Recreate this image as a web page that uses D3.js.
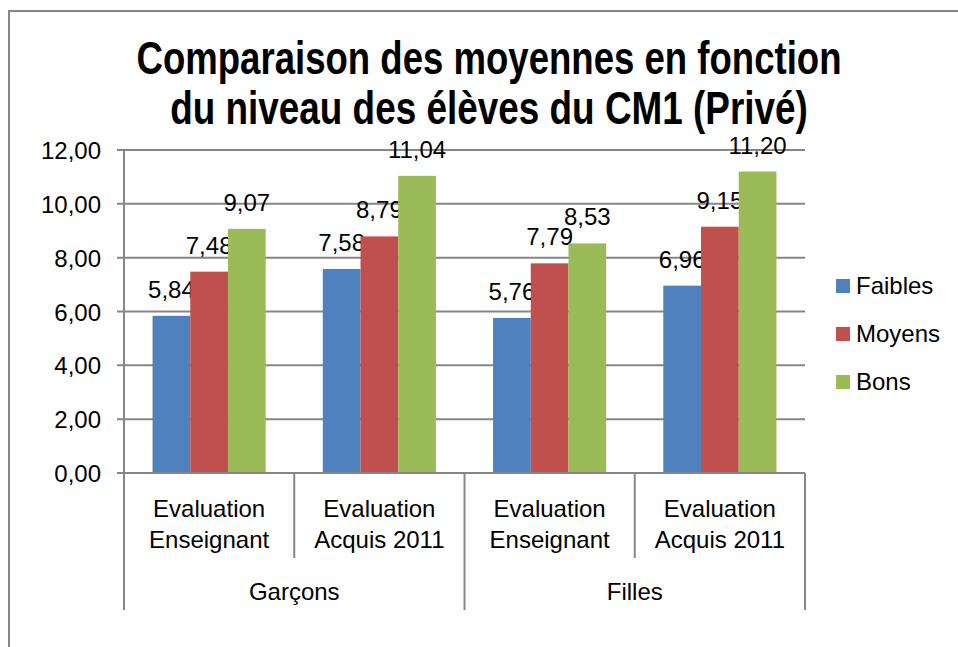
<!DOCTYPE html>
<html><head><meta charset="utf-8">
<script src="https://cdn.jsdelivr.net/npm/d3@7"></script>
<style>body{margin:0;background:#fff}svg{display:block}text{font-family:"Liberation Sans",Arial,sans-serif;fill:#000}</style>
</head><body>
<svg id="c" width="958" height="647"></svg>
<script>
const titleLines = ["Comparaison des moyennes en fonction", "du niveau des élèves du CM1 (Privé)"];
const groups = ["Garçons", "Filles"];
const subcats = [["Evaluation", "Enseignant"], ["Evaluation", "Acquis 2011"]];
const categories = ["Garçons|EE", "Garçons|A2011", "Filles|EE", "Filles|A2011"];
const series = ["Faibles", "Moyens", "Bons"];
const faibles = [5.84, 7.58, 5.76, 6.96];
const moyens = [7.48, 8.79, 7.79, 9.15];
const bons = [9.07, 11.04, 8.53, 11.20];
const yTicks = [0, 2, 4, 6, 8, 10, 12];
const colors = ["#4F81BD", "#C0504D", "#9BBB59"];

const values = [faibles, moyens, bons];
const fmt = v => v.toFixed(2).replace(".", ",");
const svg = d3.select("#c");
const grid = "#868686";

// frame
svg.append("rect").attr("x", 9).attr("y", 11).attr("width", 1000).attr("height", 700)
  .attr("fill", "none").attr("stroke", grid).attr("stroke-width", 2);

// title (condensed horizontally to match the reference's narrow face)
const titleW = [705, 638];
svg.selectAll(".title").data(titleLines).join("text").attr("class", "title")
  .attr("text-anchor", "middle").attr("font-size", 46).attr("font-weight", "bold")
  .text(d => d)
  .attr("transform", function (d, i) {
    const w = this.getComputedTextLength();
    return `translate(489,${74 + i * 50}) scale(${titleW[i] / w},1)`;
  });

const L = 124, R = 805, T = 150, B = 473;
const y = d3.scaleLinear().domain([0, 12]).range([B, T]);
const x0 = d3.scaleBand().domain(categories).range([L, R]).padding(0);
const x1 = d3.scaleBand().domain(series).range([0, x0.bandwidth()]).paddingInner(0).paddingOuter(0.757);

// gridlines
svg.append("g").selectAll("line").data(yTicks.filter(t => t > 0)).join("line")
  .attr("x1", L - 7).attr("x2", R).attr("y1", d => y(d)).attr("y2", d => y(d))
  .attr("stroke", grid).attr("stroke-width", 2);

// y axis labels
svg.append("g").selectAll("text").data(yTicks).join("text")
  .attr("x", 101).attr("y", d => y(d) + 9).attr("text-anchor", "end")
  .attr("font-size", 24).text(fmt);

// bars
series.forEach((s, si) => {
  svg.append("g").selectAll("rect").data(categories).join("rect")
    .attr("x", c => x0(c) + x1(s)).attr("width", x1.bandwidth())
    .attr("y", (c, ci) => y(values[si][ci])).attr("height", (c, ci) => B - y(values[si][ci]))
    .attr("fill", colors[si]);
  svg.append("g").selectAll("text").data(categories).join("text")
    .attr("x", c => x0(c) + x1(s) + x1.bandwidth() / 2)
    .attr("y", (c, ci) => y(values[si][ci]) - 18)
    .attr("text-anchor", "middle").attr("font-size", 24)
    .text((c, ci) => fmt(values[si][ci]));
});

// axes lines
svg.append("line").attr("x1", L).attr("x2", L).attr("y1", T).attr("y2", 610).attr("stroke", grid).attr("stroke-width", 2);
svg.append("line").attr("x1", L - 7).attr("x2", R).attr("y1", B).attr("y2", B).attr("stroke", grid).attr("stroke-width", 2);

// category separators and labels
categories.forEach((c, i) => {
  const xr = x0(c) + x0.bandwidth();
  const outer = i % 2 === 1;
  svg.append("line").attr("x1", xr).attr("x2", xr).attr("y1", B).attr("y2", outer ? 610 : 558)
    .attr("stroke", grid).attr("stroke-width", 2);
  subcats[i % 2].forEach((t, li) => {
    svg.append("text").attr("x", x0(c) + x0.bandwidth() / 2).attr("y", 517 + li * 31)
      .attr("text-anchor", "middle").attr("font-size", 24).text(t);
  });
});
groups.forEach((g, gi) => {
  const a = x0(categories[gi * 2]), b = x0(categories[gi * 2 + 1]) + x0.bandwidth();
  svg.append("text").attr("x", (a + b) / 2).attr("y", 600).attr("text-anchor", "middle")
    .attr("font-size", 24).text(g);
});

// legend
const lg = svg.append("g");
series.forEach((s, i) => {
  const cy = 286 + i * 48;
  lg.append("rect").attr("x", 836).attr("y", cy - 7).attr("width", 14).attr("height", 14).attr("fill", colors[i]);
  lg.append("text").attr("x", 856).attr("y", cy + 8).attr("font-size", 24).text(s);
});
</script>
</body></html>
